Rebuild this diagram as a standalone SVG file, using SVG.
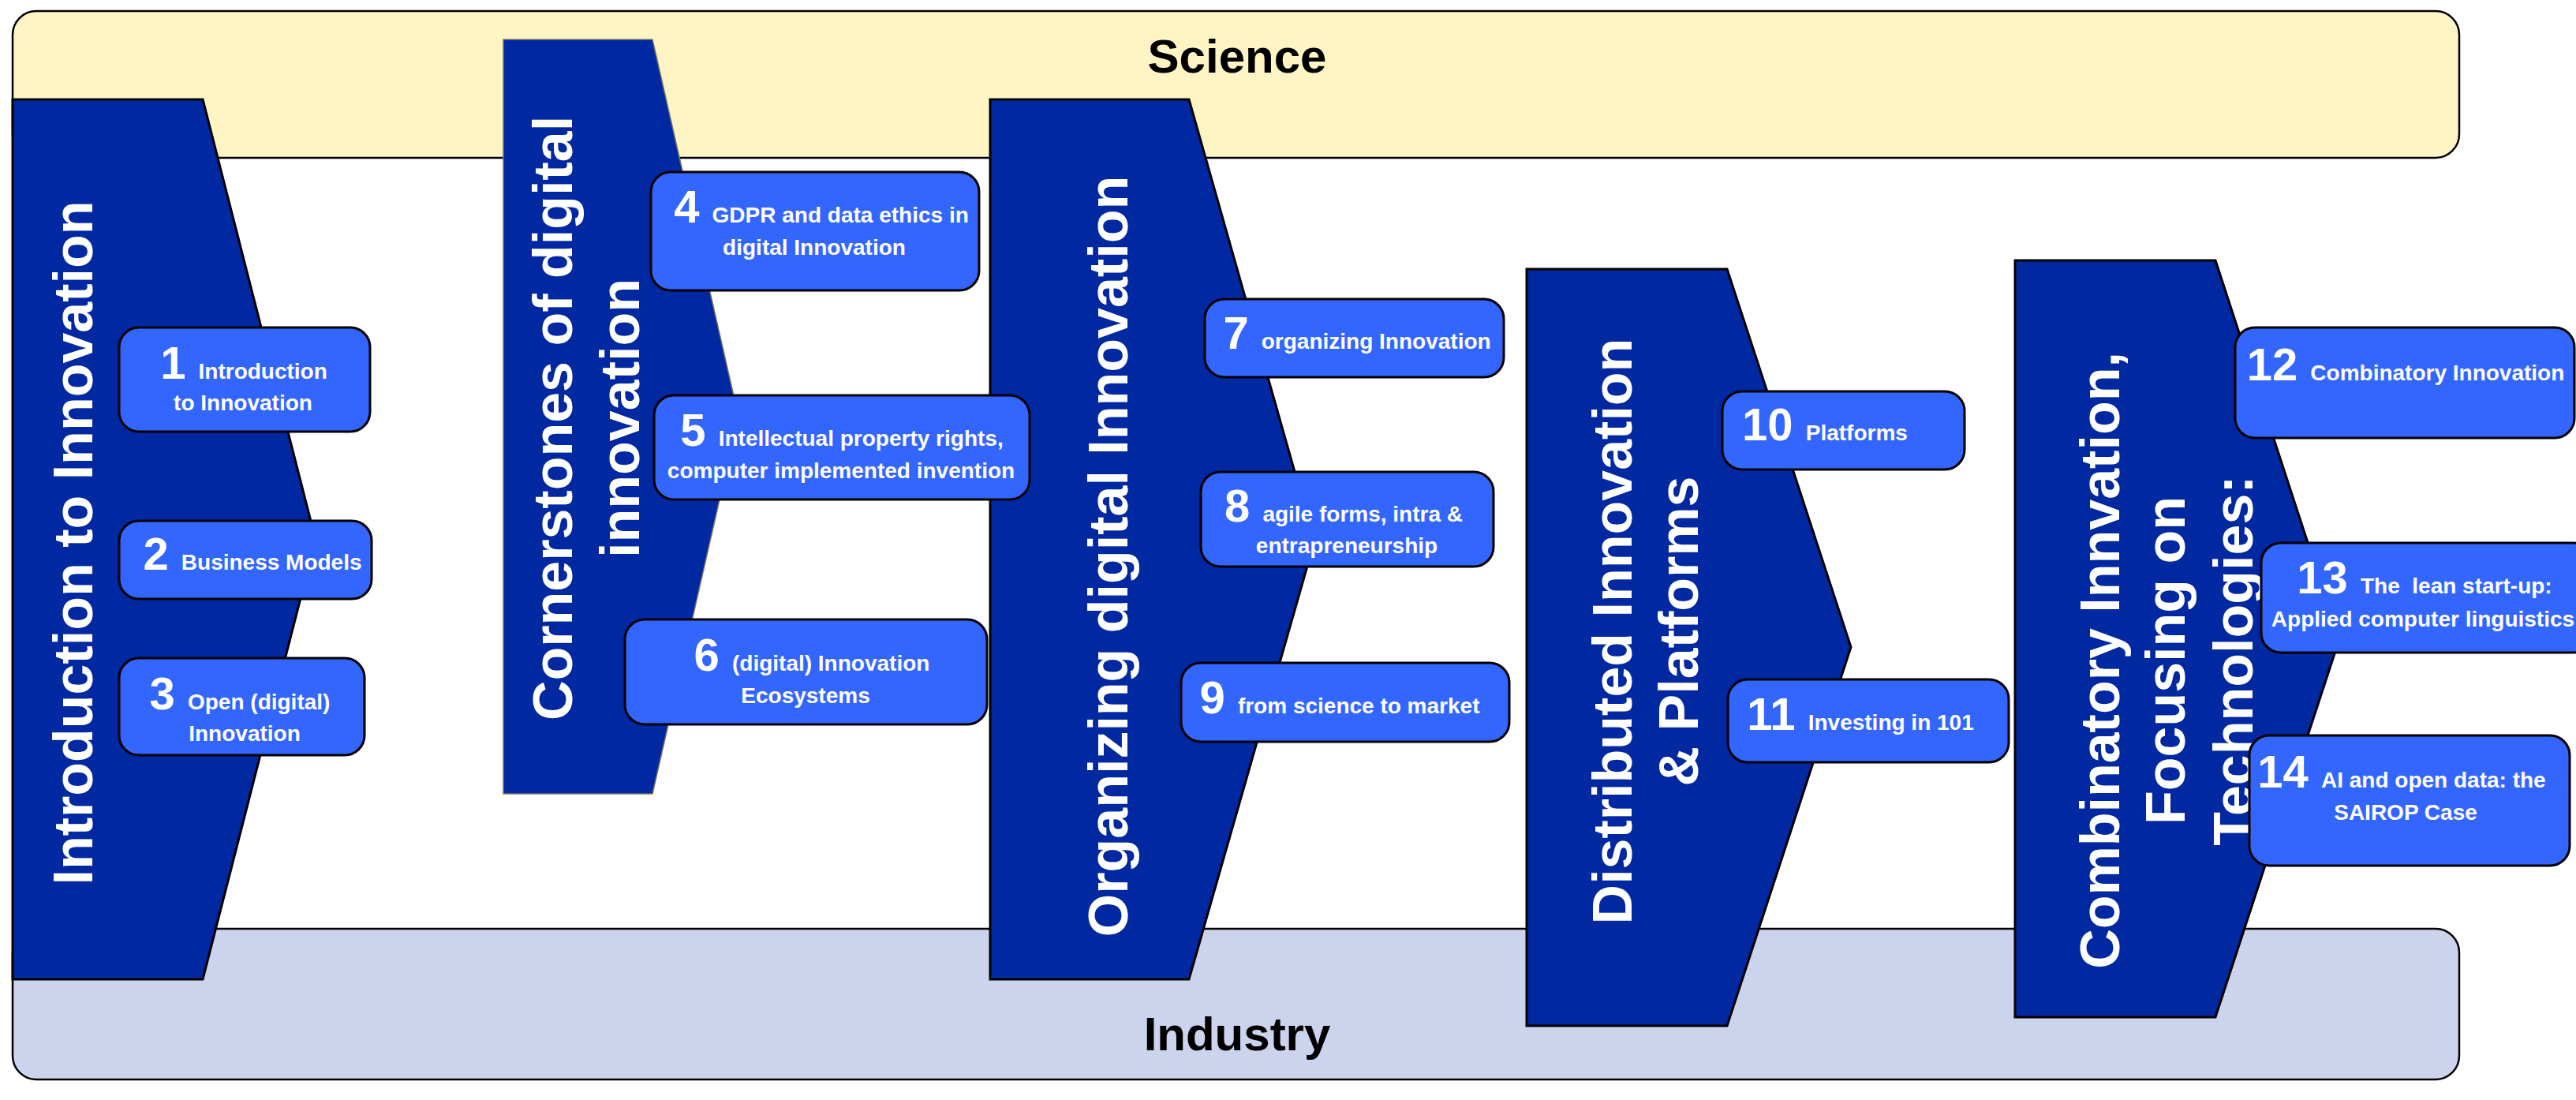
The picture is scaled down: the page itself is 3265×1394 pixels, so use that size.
<svg xmlns="http://www.w3.org/2000/svg" width="3265" height="1394" viewBox="0 0 3265 1394">
<style>
.band{stroke:#000;stroke-width:2.5}
.arrow{fill:#0028A0;stroke:#000;stroke-width:3;stroke-linejoin:miter}
.arrow-soft{fill:#0028A0;stroke:#7a7560;stroke-width:1.5}
.box{fill:#3366FF;stroke:#000;stroke-width:3}
text{font-family:"Liberation Sans",Arial,Helvetica,sans-serif;font-weight:bold}
.lbl{font-size:28px;fill:#fff;text-anchor:middle}
.num{font-size:58px}
.head{font-size:70px;fill:#fff;text-anchor:middle}
.bandlbl{font-size:60px;fill:#000;text-anchor:middle}
</style>
<rect width="3265" height="1394" fill="#fff"/>
<g id="science">
<rect class="band" x="16" y="14" width="3101" height="186" rx="30" ry="30" fill="#FFF5C4"/>
<text class="bandlbl" x="1568" y="92">Science</text>
</g>
<g id="industry">
<rect class="band" x="16" y="1177" width="3101" height="191" rx="30" ry="30" fill="#CCD3EC"/>
<text class="bandlbl" x="1568" y="1331">Industry</text>
</g>
<g id="phase1">
<polygon class="arrow" points="16,126 257,126 400,684 257,1241 16,1241"/>
<text class="head" transform="translate(117,688) rotate(-90)">Introduction to Innovation</text>
</g>
<g id="phase2">
<polygon class="arrow-soft" points="638,50 827,50 936,528 827,1006 638,1006"/>
<text class="head" transform="translate(725,530) rotate(-90)">Cornerstones of digital</text>
<text class="head" transform="translate(810,530) rotate(-90)">innovation</text>
</g>
<g id="phase3">
<polygon class="arrow" points="1255,126 1507,126 1666,686 1507,1241 1255,1241"/>
<text class="head" transform="translate(1429,705) rotate(-90)">Organizing digital Innovation</text>
</g>
<g id="phase4">
<polygon class="arrow" points="1935,341 2189,341 2346,820 2189,1300 1935,1300"/>
<text class="head" transform="translate(2068,800) rotate(-90)">Distributed Innovation</text>
<text class="head" transform="translate(2152,800) rotate(-90)">&amp; Platforms</text>
</g>
<g id="phase5">
<polygon class="arrow" points="2554,330 2808,330 2965,810 2808,1289 2554,1289"/>
<text class="head" transform="translate(2686,837) rotate(-90)">Combinatory Innvation,</text>
<text class="head" transform="translate(2769,837) rotate(-90)">Focusing on</text>
<text class="head" transform="translate(2855,837) rotate(-90)">Technologies:</text>
</g>
<g id="connectors"></g>
<g id="box1">
<rect class="box" x="151" y="415" width="318" height="132" rx="25"/>
<text class="lbl" x="309" y="480"><tspan class="num">1 </tspan>Introduction</text>
<text class="lbl" x="308" y="520">to Innovation</text>
</g>
<g id="box2">
<rect class="box" x="151" y="660" width="320" height="99" rx="25"/>
<text class="lbl" x="320" y="722"><tspan class="num">2 </tspan>Business Models</text>
</g>
<g id="box3">
<rect class="box" x="151" y="834" width="311" height="123" rx="25"/>
<text class="lbl" x="304" y="899"><tspan class="num">3 </tspan>Open (digital)</text>
<text class="lbl" x="310" y="939">Innovation</text>
</g>
<g id="box4">
<rect class="box" x="825" y="218" width="416" height="150" rx="25"/>
<text class="lbl" x="1041" y="282"><tspan class="num">4 </tspan>GDPR and data ethics in</text>
<text class="lbl" x="1032" y="323">digital Innovation</text>
</g>
<g id="box5">
<rect class="box" x="829" y="501" width="476" height="132" rx="25"/>
<text class="lbl" x="1067" y="565"><tspan class="num">5 </tspan>Intellectual property rights,</text>
<text class="lbl" x="1066" y="606">computer implemented invention</text>
</g>
<g id="box6">
<rect class="box" x="792" y="785" width="459" height="133" rx="25"/>
<text class="lbl" x="1029" y="850"><tspan class="num">6 </tspan>(digital) Innovation</text>
<text class="lbl" x="1021" y="891">Ecosystems</text>
</g>
<g id="box7">
<rect class="box" x="1527" y="379" width="379" height="99" rx="25"/>
<text class="lbl" x="1720" y="442"><tspan class="num">7 </tspan>organizing Innovation</text>
</g>
<g id="box8">
<rect class="box" x="1522" y="598" width="371" height="120" rx="25"/>
<text class="lbl" x="1703" y="661"><tspan class="num">8 </tspan>agile forms, intra &amp;</text>
<text class="lbl" x="1707" y="701">entrapreneurship</text>
</g>
<g id="box9">
<rect class="box" x="1497" y="840" width="416" height="100" rx="25"/>
<text class="lbl" x="1698" y="904"><tspan class="num">9 </tspan>from science to market</text>
</g>
<g id="box10">
<rect class="box" x="2183" y="496" width="307" height="99" rx="25"/>
<text class="lbl" x="2313" y="558"><tspan class="num">10 </tspan>Platforms</text>
</g>
<g id="box11">
<rect class="box" x="2190" y="861" width="356" height="105" rx="25"/>
<text class="lbl" x="2358" y="925"><tspan class="num">11 </tspan>Investing in 101</text>
</g>
<g id="box12">
<rect class="box" x="2833" y="415" width="430" height="140" rx="25"/>
<text class="lbl" x="3049" y="482"><tspan class="num">12 </tspan>Combinatory Innovation</text>
</g>
<g id="box13">
<rect class="box" x="2866" y="688" width="420" height="139" rx="25"/>
<text class="lbl" x="3073" y="752" xml:space="preserve"><tspan class="num">13 </tspan>The  lean start-up:</text>
<text class="lbl" x="3071" y="794">Applied computer linguistics</text>
</g>
<g id="box14">
<rect class="box" x="2851" y="932" width="406" height="165" rx="25"/>
<text class="lbl" x="3044" y="998"><tspan class="num">14 </tspan>AI and open data: the</text>
<text class="lbl" x="3049" y="1039">SAIROP Case</text>
</g>
</svg>
